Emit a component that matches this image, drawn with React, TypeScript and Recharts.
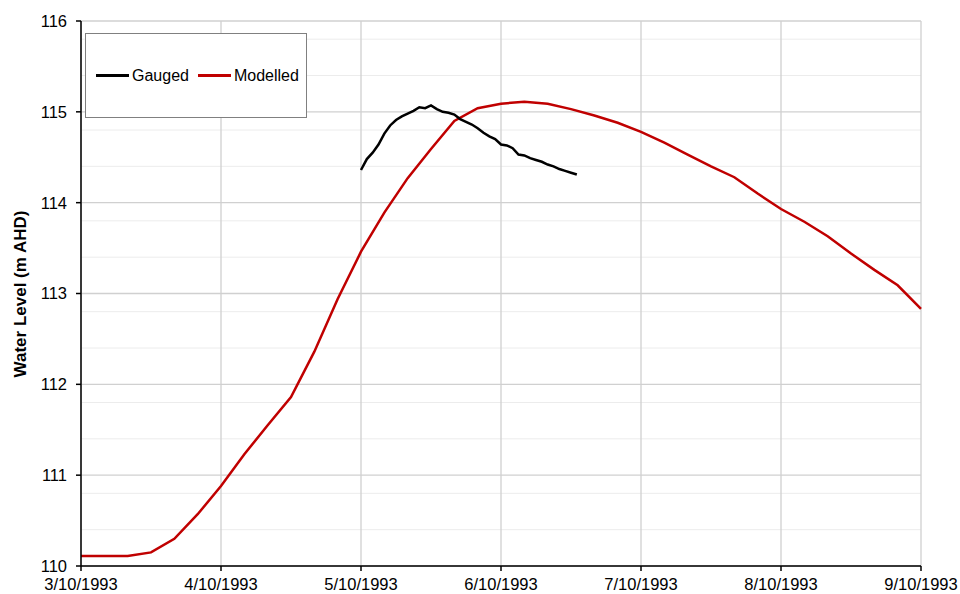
import { LineChart, Line, XAxis, YAxis, CartesianGrid } from 'recharts';

// x axis: days since 3/10/1993
const dayTicks = [0, 1, 2, 3, 4, 5, 6];
const dayLabels = ['3/10/1993', '4/10/1993', '5/10/1993', '6/10/1993', '7/10/1993', '8/10/1993', '9/10/1993'];
const levelTicks = [110, 111, 112, 113, 114, 115, 116];

// modelled water level, every 4 hours from 3/10/1993 00:00
const modelledLevels = [
  110.11, 110.11, 110.11, 110.15, 110.3, 110.57, 110.88, 111.23, 111.55, 111.86,
  112.36, 112.94, 113.46, 113.89, 114.27, 114.59, 114.9, 115.04, 115.09, 115.11,
  115.09, 115.03, 114.96, 114.88, 114.78, 114.66, 114.53, 114.4, 114.28, 114.1,
  113.93, 113.79, 113.63, 113.44, 113.26, 113.09, 112.83,
];
const modelledStepHours = 4;

// gauged water level, hourly from 5/10/1993 00:00
const gaugedLevels = [
  114.36, 114.48, 114.55, 114.64, 114.76, 114.85, 114.91, 114.95, 114.98, 115.01,
  115.05, 115.04, 115.07, 115.03, 115.0, 114.99, 114.97, 114.92, 114.89, 114.86,
  114.82, 114.77, 114.73, 114.7, 114.64, 114.63, 114.6, 114.53, 114.52, 114.49,
  114.47, 114.45, 114.42, 114.4, 114.37, 114.35, 114.33, 114.31,
];
const gaugedStartDay = 2;

const series = [
  { name: 'Gauged', color: '#000000' },
  { name: 'Modelled', color: '#C00000' },
];

const modelledData = modelledLevels.map((v, i) => ({ t: (i * modelledStepHours) / 24, level: v }));
const gaugedData = gaugedLevels.map((v, i) => ({ t: gaugedStartDay + i / 24, level: v }));

// minor gridlines every 0.2 m
const minorLevels = levelTicks.slice(0, -1).flatMap((m) => [0.2, 0.4, 0.6, 0.8].map((f) => +(m + f).toFixed(1)));

const font = '"Liberation Sans", Arial, Helvetica, sans-serif';

const AxisTitle = () => (
  <text
    x={20}
    y={294}
    transform="rotate(-90 20 294)"
    textAnchor="middle"
    dominantBaseline="central"
    fontFamily={font}
    fontSize={17}
    fontWeight="bold"
    fill="#000"
  >
    Water Level (m AHD)
  </text>
);

const App = () => {
  return (
    <div style={{ position: 'absolute', left: 0, top: 0, width: 960, height: 594, background: '#fff', fontFamily: font }}>
      <LineChart width={960} height={594} margin={{ top: 21, right: 39, bottom: 0, left: 0 }}>
        <CartesianGrid horizontalValues={minorLevels} vertical={false} stroke="#ececec" strokeWidth={1} />
        <CartesianGrid horizontalValues={levelTicks} verticalValues={dayTicks} stroke="#d0d0d0" strokeWidth={1.3} />
        <XAxis
          type="number"
          dataKey="t"
          domain={[0, 6]}
          ticks={dayTicks}
          tickFormatter={(d) => dayLabels[d] ?? ''}
          allowDuplicatedCategory={false}
          height={28}
          tickSize={5}
          tickMargin={7}
          axisLine={{ stroke: '#000', strokeWidth: 1.5 }}
          tickLine={{ stroke: '#000', strokeWidth: 1.5 }}
          tick={{ fontSize: 16.5, fill: '#000', fontFamily: font }}
        />
        <YAxis
          type="number"
          domain={[110, 116]}
          ticks={levelTicks}
          width={81}
          tickSize={5}
          tickMargin={9}
          axisLine={{ stroke: '#000', strokeWidth: 1.5 }}
          tickLine={{ stroke: '#000', strokeWidth: 1.5 }}
          tick={{ fontSize: 16.5, fill: '#000', fontFamily: font }}
          label={<AxisTitle />}
        />
        <Line
          data={modelledData}
          dataKey="level"
          name="Modelled"
          stroke={series[1].color}
          strokeWidth={2.5}
          dot={false}
          isAnimationActive={false}
        />
        <Line
          data={gaugedData}
          dataKey="level"
          name="Gauged"
          stroke={series[0].color}
          strokeWidth={2.5}
          dot={false}
          isAnimationActive={false}
        />
      </LineChart>
      <div
        style={{
          position: 'absolute',
          left: 85,
          top: 33,
          width: 222,
          height: 85,
          boxSizing: 'border-box',
          border: '1px solid #808080',
          background: '#fff',
          display: 'flex',
          alignItems: 'center',
          paddingLeft: 10,
          fontSize: 16,
          color: '#000',
        }}
      >
        {series.map((s, i) => (
          <div key={s.name} style={{ display: 'flex', alignItems: 'center', marginLeft: i ? 9 : 0 }}>
            <span style={{ display: 'inline-block', width: 33, height: 2.5, background: s.color, marginRight: 3 }} />
            <span>{s.name}</span>
          </div>
        ))}
      </div>
    </div>
  );
};

export default App;
